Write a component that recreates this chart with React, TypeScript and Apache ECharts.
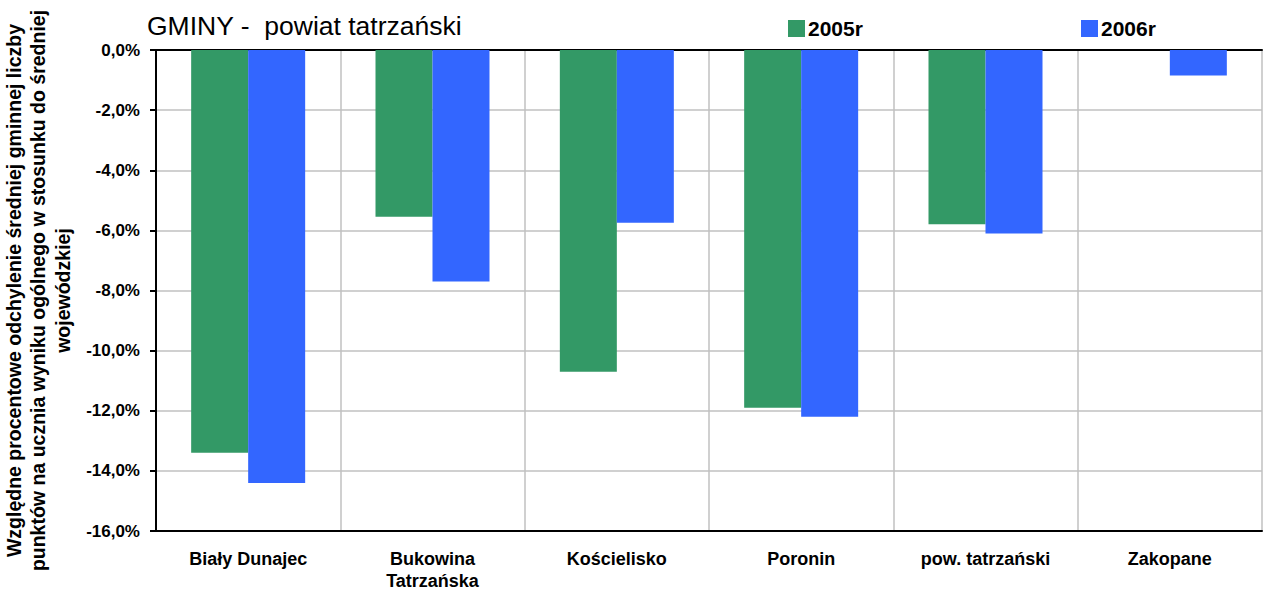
import React, { useEffect, useRef } from "react";
import * as echarts from "echarts";

const categories = ["Biały Dunajec", "Bukowina\nTatrzańska", "Kościelisko", "Poronin", "pow. tatrzański", "Zakopane"];
const values2005 = [-13.4, -5.55, -10.7, -11.9, -5.8, 0];
const values2006 = [-14.4, -7.7, -5.75, -12.2, -6.1, -0.85];
const seriesNames = ["2005r", "2006r"];
const colors = ["#339966", "#3366FF"];
const titleText = "GMINY -  powiat tatrzański";
const yTitle = "Względne procentowe odchylenie średniej gminnej liczby\npunktów na ucznia wyniku ogólnego w stosunku do średniej\nwojewódzkiej";

const FONT = "'Liberation Sans', Arial, Helvetica, sans-serif";

export default function App() {
  const ref = useRef<HTMLDivElement>(null);
  useEffect(() => {
    document.body.style.margin = "0";
    const chart = echarts.init(ref.current!, null, { renderer: "svg" });
    const legendText = { fontFamily: FONT, fontSize: 21, fontWeight: "bold", color: "#000", padding: [0, 0, 0, -2] };
    chart.setOption({
      animation: false,
      backgroundColor: "#ffffff",
      textStyle: { fontFamily: FONT },
      title: {
        text: titleText,
        left: 142,
        top: 7,
        textStyle: { fontFamily: FONT, fontSize: 26.5, fontWeight: "normal", color: "#000" },
      },
      legend: [
        {
          data: [seriesNames[0]],
          left: 788,
          top: 18,
          padding: 0,
          itemWidth: 17,
          itemHeight: 17,
          itemGap: 0,
          icon: "rect",
          textStyle: legendText,
        },
        {
          data: [seriesNames[1]],
          left: 1081,
          top: 18,
          padding: 0,
          itemWidth: 17,
          itemHeight: 17,
          itemGap: 0,
          icon: "rect",
          textStyle: legendText,
        },
      ],
      grid: { left: 156, right: 1, top: 50, bottom: 65, containLabel: false, outerBoundsMode: "none" },
      xAxis: [
        {
          type: "category",
          data: categories,
          position: "bottom",
          axisLine: { onZero: false, lineStyle: { color: "#000", width: 2 } },
          axisTick: { show: false },
          splitLine: { show: true, lineStyle: { color: "#c0c0c0", width: 1.5 } },
          axisLabel: {
            interval: 0,
            margin: 17,
            color: "#000",
            fontFamily: FONT,
            fontSize: 18,
            fontWeight: "bold",
            lineHeight: 22,
          },
        },
        {
          type: "category",
          data: categories,
          position: "top",
          axisLine: { onZero: false, lineStyle: { color: "#000", width: 2 } },
          axisTick: { show: false },
          axisLabel: { show: false },
          splitLine: { show: false },
        },
      ],
      yAxis: {
        type: "value",
        min: -16,
        max: 0,
        interval: 2,
        name: yTitle,
        nameLocation: "middle",
        nameRotate: 90,
        nameGap: 71,
        nameTextStyle: {
          fontFamily: FONT,
          fontSize: 19.5,
          fontWeight: "bold",
          color: "#000",
          lineHeight: 24.5,
          align: "center",
        },
        axisLine: { show: true, lineStyle: { color: "#000", width: 2 } },
        axisTick: { show: true, length: 6, lineStyle: { color: "#000", width: 2 } },
        splitLine: { show: true, lineStyle: { color: "#c0c0c0", width: 1.5 } },
        axisLabel: {
          margin: 16,
          color: "#000",
          fontFamily: FONT,
          fontSize: 17,
          fontWeight: "bold",
          formatter: (v: number) => (v === 0 ? 0 : v).toFixed(1).replace(".", ",") + "%",
        },
      },
      series: [
        {
          name: seriesNames[0],
          type: "bar",
          data: values2005,
          barWidth: 57,
          barGap: "0%",
          itemStyle: { color: colors[0] },
        },
        {
          name: seriesNames[1],
          type: "bar",
          data: values2006,
          barWidth: 57,
          barGap: "0%",
          itemStyle: { color: colors[1] },
        },
      ],
    });
    return () => chart.dispose();
  }, []);
  return <div ref={ref} style={{ width: 1263, height: 596 }} />;
}
